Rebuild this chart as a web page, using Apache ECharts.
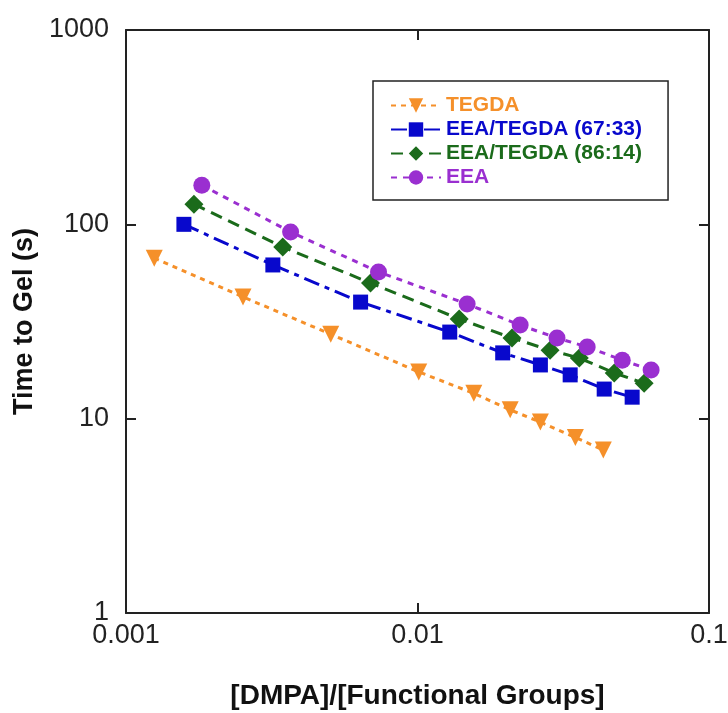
<!DOCTYPE html>
<html>
<head>
<meta charset="utf-8">
<script src="https://cdn.jsdelivr.net/npm/echarts@6/dist/echarts.min.js"></script>
<style>
  html, body { margin: 0; padding: 0; background: #fff; }
  #chart { width: 728px; height: 713px; }
</style>
</head>
<body>
<div id="chart"></div>
<script>
// values: x = [DMPA]/[Functional Groups], y = time to gel (s)
var tegdaX = [0.00125, 0.00252, 0.00504, 0.0101, 0.0156, 0.0208, 0.0264, 0.0348, 0.0434]
var tegdaY = [67, 42.3, 27.2, 17.4, 13.5, 11.1, 9.6, 8.0, 6.9]

var mix6733X = [0.00158, 0.00319, 0.00638, 0.0129, 0.0196, 0.0264, 0.0334, 0.0437, 0.0545]
var mix6733Y = [100, 61.8, 39.8, 27.9, 21.8, 18.9, 16.8, 14.2, 12.9]

var mix8614X = [0.00171, 0.00345, 0.0069, 0.0139, 0.0211, 0.0285, 0.0359, 0.0473, 0.0599]
var mix8614Y = [127, 76.4, 49.9, 32.6, 26.0, 22.5, 20.5, 17.2, 15.2]

var eeaX = [0.00182, 0.00367, 0.00735, 0.0148, 0.0225, 0.0301, 0.0382, 0.0504, 0.0633]
var eeaY = [159, 91.3, 56.9, 38.9, 30.3, 26.0, 23.4, 20.0, 17.8]

var seriesNames = ["TEGDA", "EEA/TEGDA (67:33)", "EEA/TEGDA (86:14)", "EEA"]
var seriesColors = ["#F5902A", "#0808CC", "#1B6B1B", "#9A2FD0"]

function pairs(xs, ys) {
    return xs.map(function (x, i) { return [x, ys[i]] })
}

function tickLabel(v) {
    return String(+Number(v).toPrecision(2))
}

var axisColor = "#222"
var fontFamily = "Liberation Sans, Arial, sans-serif"

var chart = echarts.init(document.getElementById("chart"))

var baseX = {
    type: "log",
    logBase: 10,
    min: 0.001,
    max: 0.1,
    axisLine: { show: true, lineStyle: { color: axisColor, width: 2 } },
    axisTick: { show: true, inside: true, length: 10, lineStyle: { color: axisColor, width: 2 } },
    minorTick: { show: false },
    splitLine: { show: false }
}
var baseY = {
    type: "log",
    logBase: 10,
    min: 1,
    max: 1000,
    axisLine: { show: true, lineStyle: { color: axisColor, width: 2 } },
    axisTick: { show: true, inside: true, length: 10, lineStyle: { color: axisColor, width: 2 } },
    minorTick: { show: false },
    splitLine: { show: false }
}

var option = {
    animation: false,
    backgroundColor: "#fff",
    grid: { left: 126, right: 19, top: 30, bottom: 100, containLabel: false, outerBoundsMode: "none" },
    xAxis: [
        Object.assign({}, baseX, {
            position: "bottom",
            name: "[DMPA]/[Functional Groups]",
            nameLocation: "middle",
            nameGap: 69,
            nameTextStyle: { fontFamily: fontFamily, fontSize: 28, fontWeight: "bold", color: "#111" },
            axisLabel: { margin: 9, fontFamily: fontFamily, fontSize: 27, color: "#222", formatter: tickLabel }
        }),
        Object.assign({}, baseX, { position: "top", axisLabel: { show: false } })
    ],
    yAxis: [
        Object.assign({}, baseY, {
            position: "left",
            name: "Time to Gel (s)",
            nameLocation: "middle",
            nameGap: 88,
            nameTextStyle: { fontFamily: fontFamily, fontSize: 27, fontWeight: "bold", color: "#111" },
            axisLabel: { margin: 17, fontFamily: fontFamily, fontSize: 27, color: "#222", formatter: tickLabel }
        }),
        Object.assign({}, baseY, { position: "right", axisLabel: { show: false } })
    ],
    legend: {
        left: 373,
        top: 81,
        orient: "vertical",
        backgroundColor: "#fff",
        borderColor: "#222",
        borderWidth: 1.5,
        padding: [14, 26, 12, 17],
        itemGap: 3,
        itemWidth: 50,
        itemHeight: 18,
        textStyle: { fontFamily: fontFamily, fontSize: 21, fontWeight: "bold" },
        data: seriesNames.map(function (n, i) {
            return { name: n, textStyle: { color: seriesColors[i] } }
        })
    },
    series: [
        {
            name: seriesNames[0],
            type: "line",
            data: pairs(tegdaX, tegdaY),
            symbol: "triangle",
            symbolRotate: 180,
            symbolSize: 17,
            color: seriesColors[0],
            lineStyle: { width: 3, type: [5, 5] }
        },
        {
            name: seriesNames[1],
            type: "line",
            data: pairs(mix6733X, mix6733Y),
            symbol: "rect",
            symbolSize: 15,
            color: seriesColors[1],
            lineStyle: { width: 3, type: [16, 6, 5, 6] }
        },
        {
            name: seriesNames[2],
            type: "line",
            data: pairs(mix8614X, mix8614Y),
            symbol: "diamond",
            symbolSize: 19,
            color: seriesColors[2],
            lineStyle: { width: 3, type: [12, 7] }
        },
        {
            name: seriesNames[3],
            type: "line",
            data: pairs(eeaX, eeaY),
            symbol: "circle",
            symbolSize: 17,
            color: seriesColors[3],
            lineStyle: { width: 3, type: [6, 6] }
        }
    ]
}

chart.setOption(option)
</script>
</body>
</html>
